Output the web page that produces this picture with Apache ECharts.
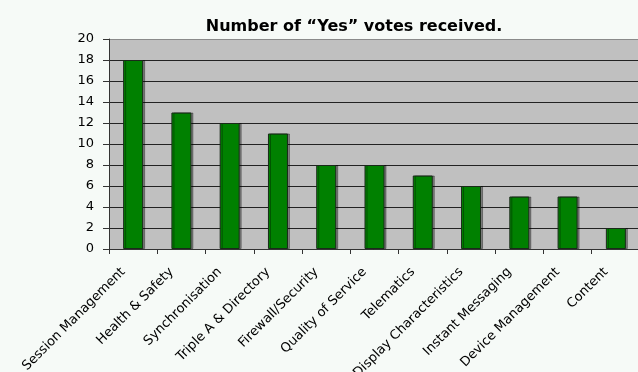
<!DOCTYPE html>
<html>
<head>
<meta charset="utf-8">
<script src="https://cdn.jsdelivr.net/npm/echarts@6/dist/echarts.min.js"></script>
<style>
  html, body { margin: 0; padding: 0; background: #f6faf7; }
  #chart { width: 638px; height: 372px; }
</style>
</head>
<body>
<div id="chart"></div>
<script>
const categories = ['Session Management', 'Health & Safety', 'Synchronisation', 'Triple A & Directory',
  'Firewall/Security', 'Quality of Service', 'Telematics', 'Display Characteristics',
  'Instant Messaging', 'Device Management', 'Content']
const yesVotes = [18, 13, 12, 11, 8, 8, 7, 6, 5, 5, 2]
const yTicks = [0, 2, 4, 6, 8, 10, 12, 14, 16, 18, 20]

const myChart = echarts.init(document.getElementById('chart'))
// top line of the plot is lighter than the inner grid lines
const splitColors = yTicks.map((v, i) => i === yTicks.length - 1 ? '#8a8a8a' : '#222')
const font = 'DejaVu Sans, Verdana, sans-serif'

const option = {
  backgroundColor: '#f6faf7',
  animation: false,
  title: {
    text: 'Number of \u201cYes\u201d votes received.',
    left: 349,
    top: 14,
    textAlign: 'center',
    textStyle: {
      fontFamily: font,
      fontSize: 16,
      fontWeight: 'bold',
      color: '#000'
    }
  },
  grid: {
    left: 109,
    top: 39,
    right: -2,
    bottom: 123,
    outerBoundsMode: 'none',
    show: true,
    backgroundColor: '#c0c0c0',
    borderWidth: 0
  },
  xAxis: {
    type: 'category',
    data: categories,
    axisLine: { lineStyle: { color: '#333', width: 1 } },
    axisTick: { show: true, length: 5, lineStyle: { color: '#333' } },
    axisLabel: {
      rotate: 45,
      interval: 0,
      margin: 11,
      padding: [0, 14, 0, 0],
      color: '#000',
      fontFamily: font,
      fontSize: 13
    }
  },
  yAxis: {
    type: 'value',
    min: 0,
    max: 20,
    interval: 2,
    axisLine: { show: true, lineStyle: { color: '#333', width: 1 } },
    axisTick: { show: true, length: 6, lineStyle: { color: '#333' } },
    axisLabel: {
      margin: 15,
      color: '#000',
      fontFamily: font,
      fontSize: 13
    },
    splitLine: { show: true, lineStyle: { color: splitColors, width: 1 } }
  },
  series: [
    {
      type: 'bar',
      data: yesVotes,
      barWidth: 20,
      itemStyle: {
        color: '#008000',
        borderColor: '#1a2a1a',
        borderWidth: 1,
        shadowColor: 'rgba(0,0,0,0.35)',
        shadowOffsetX: 2,
        shadowOffsetY: 0,
        shadowBlur: 0
      }
    }
  ]
}
myChart.setOption(option)
</script>
</body>
</html>
